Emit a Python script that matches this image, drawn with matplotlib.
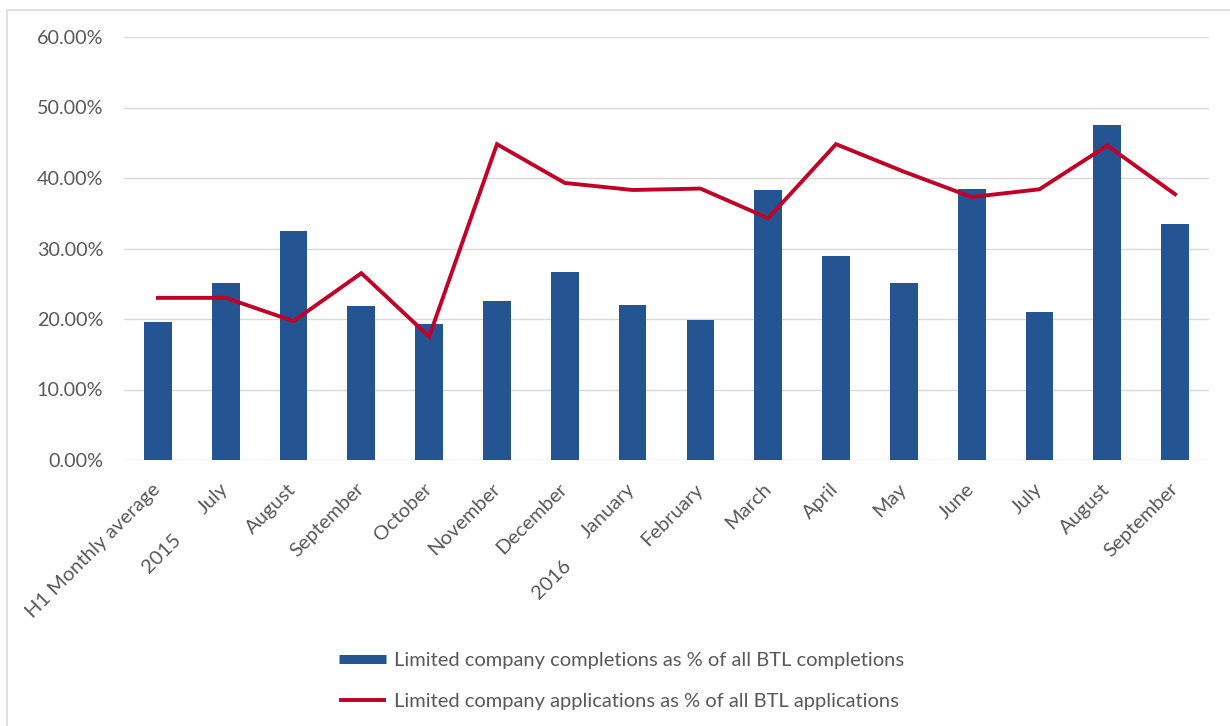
import matplotlib
matplotlib.use("Agg")
import matplotlib.pyplot as plt
from matplotlib.lines import Line2D
from matplotlib.patches import Rectangle
from matplotlib.ticker import FuncFormatter

categories = ["H1 Monthly average", "July", "August", "September", "October",
              "November", "December", "January", "February", "March", "April",
              "May", "June", "July", "August", "September"]
year_labels = ["2015", "2016"]
completions_pct = [19.6, 25.1, 32.5, 21.8, 19.3, 22.5, 26.6, 22.0, 19.8,
                   38.3, 28.9, 25.1, 38.5, 21.0, 47.5, 33.5]
applications_pct = [23.0, 23.0, 19.7, 26.5, 17.5, 44.8, 39.3, 38.3, 38.5,
                    34.3, 44.8, 40.9, 37.3, 38.4, 44.6, 37.7]
yticks = [0, 10, 20, 30, 40, 50, 60]
completions_label = "Limited company completions as % of all BTL completions"
applications_label = "Limited company applications as % of all BTL applications"

BAR_BLUE = "#255492"
LINE_RED = "#C00027"
TEXT_GREY = "#595959"
GRID_GREY = "#D9D9D9"

plt.rcParams["font.family"] = ["Lato", "DejaVu Sans"]

W, H = 1230, 726
fig = plt.figure(figsize=(W / 100, H / 100), dpi=100)
fig.patch.set_facecolor("white")

# thin frame around the chart area
fig.patches.append(Rectangle((7 / W, -0.05), 1.2, 1 - 10 / H + 0.05,
                             transform=fig.transFigure, fill=False,
                             edgecolor="#D9D9D9", linewidth=1.2))

ax = fig.add_axes([124 / W, 1 - 460 / H, (1209 - 124) / W, (460 - 37) / H])

x = list(range(len(categories)))
ax.bar(x, completions_pct, width=0.41, color=BAR_BLUE, zorder=2)
ax.plot(x, applications_pct, color=LINE_RED, linewidth=2.8, zorder=3,
        solid_joinstyle="miter")

ax.set_xlim(-0.5, len(categories) - 0.5)
ax.set_ylim(0, 60)
ax.set_yticks(yticks)
ax.yaxis.set_major_formatter(FuncFormatter(lambda v, _: f"{v:.2f}%"))
ax.grid(axis="y", color=GRID_GREY, linewidth=1.0, zorder=0)
ax.set_axisbelow(True)
for s in ax.spines.values():
    s.set_visible(False)
ax.tick_params(axis="both", length=0, labelcolor=TEXT_GREY)
ax.tick_params(axis="y", pad=15, labelsize=14.2)

ax.set_xticks(x)
ax.set_xticklabels(categories, rotation=45, ha="right", va="center",
                   rotation_mode="anchor", fontsize=14.5, color=TEXT_GREY)
ax.tick_params(axis="x", pad=19)

# year group labels beneath the month names
for label, xpos, drop in [(year_labels[0], 0.30, 77), (year_labels[1], 6.05, 103)]:
    ax.annotate(label, xy=(xpos, 0), xycoords=("data", "axes fraction"),
                xytext=(0, -drop), textcoords="offset pixels",
                rotation=45, ha="right", va="center", rotation_mode="anchor",
                fontsize=14.5, color=TEXT_GREY)

handles = [Line2D([], [], color=BAR_BLUE, linewidth=6.5, solid_capstyle="butt"),
           Line2D([], [], color=LINE_RED, linewidth=2.8, solid_capstyle="butt")]
leg = fig.legend(handles, [completions_label, applications_label],
                 loc="upper left", bbox_to_anchor=(339 / W, 1 - 652 / H),
                 frameon=False, fontsize=14.5, handlelength=2.35,
                 handletextpad=0.4, labelspacing=1.17, borderaxespad=0,
                 borderpad=0)
for t in leg.get_texts():
    t.set_color(TEXT_GREY)

fig.savefig("out.png", dpi=100, facecolor="white")
